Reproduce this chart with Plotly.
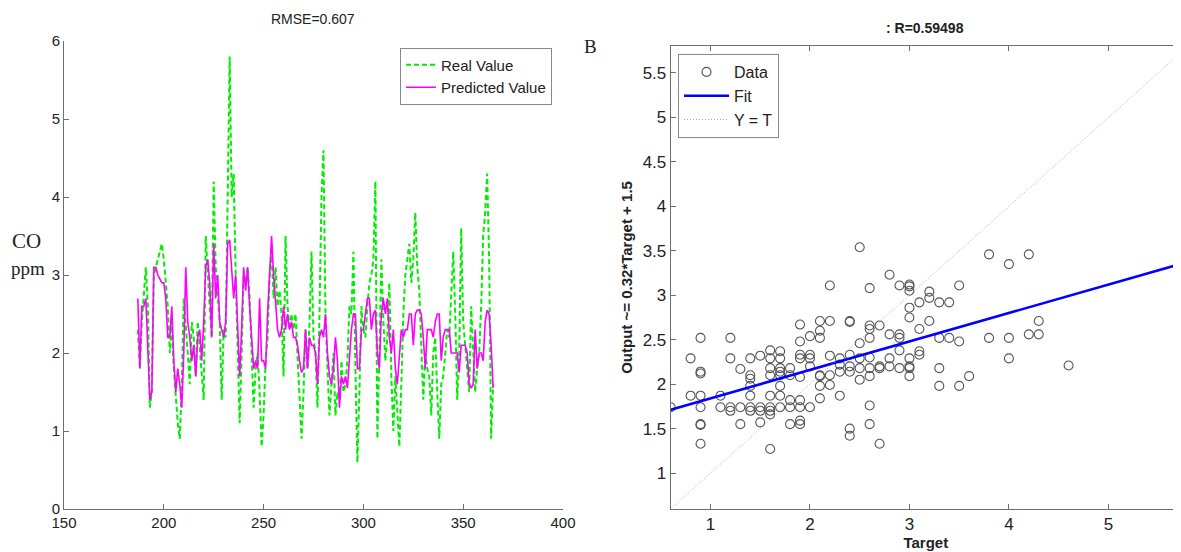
import plotly.graph_objects as go

# gunluk seri (gun 187 ... 365)
real_value = [
    2.3, 1.8, 2.4, 2.8, 3.1, 2.6, 1.3, 1.5, 3.0, 3.1, 3.2, 3.3, 3.4, 3.2, 2.9, 2.6, 2.0, 2.4, 1.8, 1.4,
    1.1, 0.9, 1.6, 2.7, 2.4, 2.0, 1.6, 2.4, 2.2, 1.7, 2.4, 2.1, 1.8, 1.4, 3.5, 3.0, 2.6, 2.2, 4.2, 3.1,
    2.8, 2.4, 1.4, 2.3, 2.2, 3.8, 5.8, 4.0, 4.3, 3.0, 2.1, 1.1, 2.0, 3.0, 2.9, 3.1, 2.7, 2.0, 1.3, 1.8,
    2.0, 1.5, 0.8, 1.2, 1.9, 2.2, 3.0, 3.3, 2.7, 3.1, 2.6, 2.8, 2.5, 1.7, 3.5, 2.6, 2.3, 2.5, 2.3, 2.5,
    2.0, 1.4, 0.9, 1.5, 2.3, 1.8, 2.4, 3.3, 2.2, 2.0, 1.3, 2.5, 4.0, 4.6, 2.5, 1.8, 1.2, 1.6, 2.0, 1.2,
    1.5, 1.4, 1.9, 1.5, 1.6, 1.9, 2.6, 2.5, 3.3, 1.8, 0.6, 1.5, 2.6, 2.3, 2.2, 2.6, 2.9, 3.0, 3.2, 4.2,
    0.9, 2.0, 3.2, 2.4, 1.9, 2.2, 2.9, 1.7, 1.0, 1.7, 1.3, 0.8, 1.6, 2.5, 3.0, 3.2, 3.4, 2.9, 3.2, 3.8,
    3.1, 2.8, 2.0, 1.4, 2.0, 1.8, 1.7, 1.2, 2.0, 2.2, 1.5, 0.9, 1.6, 1.7, 2.0, 2.3, 2.2, 2.8, 3.3, 2.5,
    1.4, 2.0, 3.6, 2.4, 2.1, 1.9, 1.5, 2.6, 2.0, 1.5, 1.8, 2.0, 2.6, 3.5, 3.8, 4.3, 3.2, 0.9, 1.6,
]
predicted_value = [
    2.7, 1.8, 2.6, 2.6, 2.7, 2.1, 1.4, 1.5, 3.1, 3.1, 3.0, 2.95, 2.9, 2.9, 2.7, 2.2, 2.2, 2.6, 1.9, 1.5,
    1.8, 1.6, 1.3, 2.0, 3.1, 2.4, 2.2, 1.9, 2.1, 1.7, 2.2, 2.3, 1.9, 2.4, 3.1, 3.2, 2.9, 2.2, 3.4, 2.7,
    3.0, 2.4, 2.3, 2.2, 2.4, 3.4, 3.45, 3.0, 2.7, 3.0, 2.3, 1.7, 2.3, 3.1, 2.8, 3.1, 2.6, 2.2, 1.8, 1.9,
    1.8, 2.7, 1.9, 1.9, 1.8, 2.5, 3.1, 3.5, 3.0, 2.6, 2.3, 2.2, 2.3, 2.6, 2.3, 2.5, 2.3, 2.4, 2.2, 2.2,
    2.1, 1.9, 1.75, 1.8, 2.3, 1.8, 2.2, 2.1, 2.1, 2.0, 1.6, 2.2, 2.3, 2.2, 2.5, 2.0, 1.7, 1.6, 1.8, 2.2,
    1.9, 1.3, 1.7, 1.6, 1.7, 1.55, 2.0, 2.3, 2.5, 2.5, 1.8, 1.8, 2.3, 2.3, 2.5, 2.7, 2.7, 2.3, 2.5, 2.55,
    2.0, 1.8, 2.5, 2.7, 2.5, 2.7, 2.2, 2.0, 2.3, 1.8, 1.6, 2.0, 2.3, 2.2, 2.3, 2.3, 2.5, 2.5, 2.1, 2.5,
    2.55, 2.55, 2.5, 2.2, 1.8, 2.3, 2.3, 2.3, 2.2, 2.4, 2.5, 2.5, 1.9, 2.2, 2.3, 2.3, 2.3, 2.0, 2.0, 2.0,
    2.0, 1.75, 2.1, 2.1, 2.1, 2.0, 1.6, 1.55, 1.6, 2.3, 1.8, 2.0, 2.0, 1.9, 2.4, 2.55, 2.5, 2.1, 1.55,
]
first_day = 187
days = list(range(first_day, first_day + len(real_value)))

# regresyon grafigi icin hedef / cikti noktalari
target = [
    0.6,
    0.8, 0.8,
    0.9, 0.9, 0.9, 0.9, 0.9, 0.9, 0.9, 0.9,
    1.1, 1.1,
    1.2, 1.2, 1.2, 1.2,
    1.3, 1.3, 1.3,
    1.4, 1.4, 1.4, 1.4, 1.4, 1.4, 1.4,
    1.5, 1.5, 1.5, 1.5,
    1.6, 1.6, 1.6, 1.6, 1.6, 1.6, 1.6, 1.6, 1.6,
    1.7, 1.7, 1.7, 1.7, 1.7, 1.7, 1.7, 1.7,
    1.8, 1.8, 1.8, 1.8, 1.8,
    1.9, 1.9, 1.9, 1.9, 1.9, 1.9, 1.9, 1.9, 1.9,
    2.0, 2.0, 2.0, 2.0, 2.0,
    2.1, 2.1, 2.1, 2.1, 2.1, 2.1, 2.1,
    2.2, 2.2, 2.2, 2.2, 2.2,
    2.3, 2.3, 2.3, 2.3,
    2.4, 2.4, 2.4, 2.4, 2.4, 2.4, 2.4,
    2.5, 2.5, 2.5, 2.5, 2.5,
    2.6, 2.6, 2.6, 2.6, 2.6, 2.6, 2.6, 2.6, 2.6,
    2.7, 2.7, 2.7, 2.7,
    2.8, 2.8, 2.8, 2.8,
    2.9, 2.9, 2.9, 2.9, 2.9,
    3.0, 3.0, 3.0, 3.0, 3.0, 3.0, 3.0, 3.0, 3.0,
    3.1, 3.1, 3.1, 3.1,
    3.2, 3.2, 3.2,
    3.3, 3.3, 3.3, 3.3,
    3.4, 3.4,
    3.5, 3.5, 3.5,
    3.6,
    3.8, 3.8,
    4.0, 4.0, 4.0,
    4.2, 4.2,
    4.3, 4.3,
    4.6,
]
output = [
    1.74,
    2.29, 1.87,
    2.52, 2.14, 2.12, 1.87, 1.74, 1.55, 1.54, 1.33,
    1.87, 1.74,
    2.52, 2.29, 1.74, 1.70,
    2.17, 1.74, 1.55,
    2.29, 2.10, 2.06, 1.98, 1.87, 1.74, 1.70,
    2.32, 1.74, 1.70, 1.57,
    2.38, 2.29, 2.18, 2.10, 1.87, 1.74, 1.70, 1.66, 1.27,
    2.37, 2.29, 2.18, 2.14, 2.10, 1.98, 1.87, 1.74,
    2.18, 2.10, 1.82, 1.74, 1.55,
    2.67, 2.48, 2.33, 2.29, 2.08, 1.82, 1.74, 1.59, 1.55,
    2.54, 2.33, 2.29, 2.20, 1.74,
    2.71, 2.60, 2.52, 2.10, 2.09, 1.98, 1.84,
    3.11, 2.71, 2.32, 2.10, 1.99,
    2.29, 2.22, 2.14, 1.87,
    2.71, 2.70, 2.33, 2.20, 2.14, 1.50, 1.42,
    3.54, 2.46, 2.29, 2.18, 2.05,
    3.08, 2.66, 2.62, 2.52, 2.30, 2.18, 2.09, 1.76, 1.55,
    2.66, 2.20, 2.18, 1.33,
    3.23, 2.56, 2.29, 2.20,
    3.11, 2.56, 2.52, 2.38, 2.18,
    3.12, 3.10, 3.05, 2.86, 2.75, 2.29, 2.20, 2.18, 2.09,
    2.92, 2.62, 2.37, 2.33,
    3.04, 2.97, 2.71,
    2.92, 2.52, 2.18, 1.98,
    2.92, 2.52,
    3.11, 2.48, 1.98,
    2.09,
    3.46, 2.52,
    3.35, 2.52, 2.29,
    3.46, 2.56,
    2.71, 2.56,
    2.21,
]
fit_slope = 0.32
fit_intercept = 1.52
axis_min = 0.6
axis_max = 5.8

# sayfa govdesinin 8px kenar boslugu var, figur ona gore kucultuldu
PAD = 8
W, H = 1181 - PAD, 552 - PAD
AX = "#6e6e6e"


def px(x):
    return (x - PAD) / W


def py(y):
    return 1 - (y - PAD) / H


fig = go.Figure()

# sol grafik: gercek ve tahmin
fig.add_trace(go.Scatter(x=days, y=real_value, mode="lines", name="Real Value",
                         line=dict(color="#00ee00", width=2, dash="5px,3px"),
                         xaxis="x", yaxis="y", legend="legend"))
fig.add_trace(go.Scatter(x=days, y=predicted_value, mode="lines", name="Predicted Value",
                         line=dict(color="#ff00ff", width=1.6),
                         xaxis="x", yaxis="y", legend="legend"))

# sag grafik: regresyon
fit_x = [axis_min, axis_max]
fit_y = [fit_slope * v + fit_intercept for v in fit_x]
fig.add_trace(go.Scatter(x=target, y=output, mode="markers", name="Data",
                         marker=dict(symbol="circle-open", size=9, color="#555555",
                                     line=dict(width=1.1, color="#555555")),
                         xaxis="x2", yaxis="y2", legend="legend2"))
fig.add_trace(go.Scatter(x=fit_x, y=fit_y, mode="lines", name="Fit",
                         line=dict(color="#0000ff", width=2.6),
                         xaxis="x2", yaxis="y2", legend="legend2"))
fig.add_trace(go.Scatter(x=fit_x, y=fit_x, mode="lines", name="Y = T",
                         line=dict(color="#aaaaaa", width=1, dash="1px,2px"),
                         xaxis="x2", yaxis="y2", legend="legend2"))

tick_font = dict(family="Liberation Sans, Arial", size=15, color="#222")
tick_font2 = dict(family="Liberation Sans, Arial", size=17, color="#222")
serif = "Liberation Serif, Times New Roman"


def label(text, x, y, size=14, family="Liberation Sans, Arial"):
    return dict(text=text, x=px(x), y=py(y), xref="paper", yref="paper", showarrow=False,
                xanchor="center", yanchor="middle", font=dict(family=family, size=size, color="#222"))


fig.update_layout(
    width=W, height=H,
    margin=dict(l=0, r=0, t=0, b=0, autoexpand=False),
    paper_bgcolor="white", plot_bgcolor="white",
    font=dict(family="Liberation Sans, Arial", color="#222"),
    xaxis=dict(domain=[px(64), px(563)], range=[150, 400], tickvals=[150, 200, 250, 300, 350, 400],
               showgrid=False, zeroline=False, showline=True, linecolor=AX, linewidth=1,
               ticks="inside", ticklen=5, tickcolor=AX, tickfont=tick_font, anchor="y"),
    yaxis=dict(domain=[py(509), py(41)], range=[0, 6], tickvals=[0, 1, 2, 3, 4, 5, 6],
               showgrid=False, zeroline=False, showline=True, linecolor=AX, linewidth=1,
               ticks="inside", ticklen=5, tickcolor=AX, tickfont=tick_font, anchor="x"),
    xaxis2=dict(domain=[px(670.7), 1.0], range=[axis_min, 5.73], tickvals=[1, 2, 3, 4, 5],
                showgrid=False, zeroline=False, showline=True, mirror="ticks", linecolor=AX, linewidth=1,
                ticks="inside", ticklen=5, tickcolor=AX, tickfont=tick_font2, anchor="y2",
                title=dict(text="<b>Target</b>", font=dict(size=15, color="#222"), standoff=2)),
    yaxis2=dict(domain=[py(508.6), py(46.3)], range=[axis_min, axis_max],
                tickvals=[1, 1.5, 2, 2.5, 3, 3.5, 4, 4.5, 5, 5.5],
                showgrid=False, zeroline=False, showline=True, mirror="ticks", linecolor=AX, linewidth=1,
                ticks="inside", ticklen=5, tickcolor=AX, tickfont=tick_font2, anchor="x2",
                title=dict(text="<b>Output ~= 0.32*Target + 1.5</b>", font=dict(size=15, color="#222"),
                           standoff=6)),
    legend=dict(x=px(400), y=py(47.5), xanchor="left", yanchor="top",
                bordercolor="#888", borderwidth=1, bgcolor="white",
                font=dict(size=15, color="#222"), itemwidth=30, tracegroupgap=0),
    legend2=dict(x=px(678), y=py(54), xanchor="left", yanchor="top",
                 bordercolor="#888", borderwidth=1, bgcolor="white",
                 font=dict(size=16, color="#222"), itemwidth=45, tracegroupgap=0),
    showlegend=True,
    annotations=[
        label("RMSE=0.607", 313, 19),
        label("<b>: R=0.59498</b>", 925, 28),
        label("CO", 26, 241, size=21, family=serif),
        label("ppm", 28, 268, size=19, family=serif),
        label("B", 590, 47, size=19, family=serif),
    ],
)

fig.write_html("out.html")
